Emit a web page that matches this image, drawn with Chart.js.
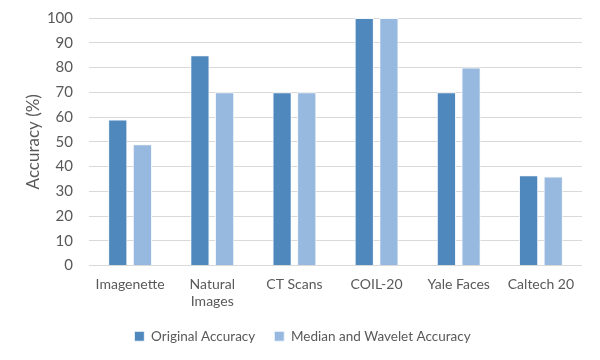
<!DOCTYPE html>
<html>
<head>
<meta charset="utf-8">
<script src="https://cdn.jsdelivr.net/npm/chart.js@4/dist/chart.umd.min.js"></script>
<style>
  html, body { margin: 0; padding: 0; background: #fff; }
  #wrap { width: 600px; height: 360px; }
</style>
</head>
<body>
<div id="wrap"><canvas id="chart" width="600" height="360"></canvas></div>
<script>
// Data
const categories = ['Imagenette', ['Natural', 'Images'], 'CT Scans', 'COIL-20', 'Yale Faces', 'Caltech 20'];
const originalAccuracy = [59, 85, 70, 100, 70, 36.5];
const medianWaveletAccuracy = [49, 70, 70, 100, 80, 36];
const yTicks = [0, 10, 20, 30, 40, 50, 60, 70, 80, 90, 100];

const FONT = 'Lato, "Open Sans", sans-serif';
const TEXT = '#595959';

new Chart(document.getElementById('chart'), {
  type: 'bar',
  data: {
    labels: categories,
    datasets: [
      {
        label: 'Original Accuracy',
        data: originalAccuracy,
        backgroundColor: '#4f88bc',
        borderColor: '#f4f8fc',
        borderWidth: 1,
      },
      {
        label: 'Median and Wavelet Accuracy',
        data: medianWaveletAccuracy,
        backgroundColor: '#97b8df',
        borderColor: '#f4f8fc',
        borderWidth: 1,
      },
    ],
  },
  options: {
    responsive: false,
    animation: false,
    datasets: {
      bar: { categoryPercentage: 0.6, barPercentage: 0.78 },
    },
    layout: { padding: { top: 0, right: 18, left: 23, bottom: 7 } },
    plugins: {
      legend: {
        position: 'bottom',
        labels: {
          color: TEXT,
          font: { family: FONT, size: 13.5 },
          boxWidth: 10,
          boxHeight: 10,
          padding: 19,
        },
      },
      tooltip: { enabled: false },
    },
    scales: {
      x: {
        grid: { display: false, drawTicks: false },
        border: { display: false },
        ticks: { color: TEXT, font: { family: FONT, size: 14, lineHeight: 1.2 }, padding: 11, maxRotation: 0, autoSkip: false },
        afterFit: axis => { axis.height = 45; },
      },
      y: {
        min: 0,
        max: 100,
        afterBuildTicks: axis => { axis.ticks = yTicks.map(v => ({ value: v })); },
        // fixed axis width and top gap so the plot sits where the reference has it
        afterFit: axis => { axis.width = 66; axis.paddingTop = 18; },
        grid: { color: '#d9d9d9', lineWidth: 1, drawTicks: false },
        border: { display: false },
        ticks: { color: TEXT, font: { family: FONT, size: 15 }, padding: 16, autoSkip: false },
        title: {
          display: true,
          text: 'Accuracy (%)',
          color: TEXT,
          font: { family: FONT, size: 17 },
          padding: 0,
        },
      },
    },
  },
});
</script>
</body>
</html>
